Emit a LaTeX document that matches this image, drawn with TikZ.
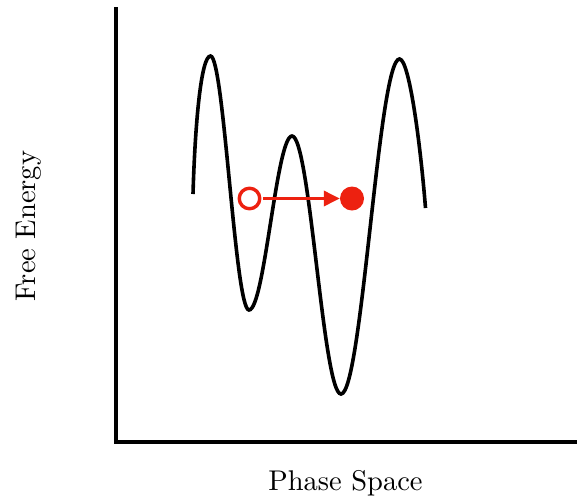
\documentclass[tikz,border=0pt]{standalone}
\usetikzlibrary{arrows.meta}
\definecolor{dotred}{RGB}{237,33,16}
\begin{document}
\begin{tikzpicture}[x=1pt,y=-1pt,
  axisline/.style={line width=4pt},
  energy/.style={line width=3.6pt},
  lbl/.style={scale=2.85,inner sep=0pt}]
\useasboundingbox (0,0) rectangle (577,499);
% axes
\coordinate (top) at (116,7);
\coordinate (origin) at (116,442);
\coordinate (right) at (577,442);
\draw[axisline] (top) -- (origin) -- (right);
% energy landscape
\coordinate (s) at (193,194);
\coordinate (p1) at (210.5,56);
\coordinate (m1) at (249,310);
\coordinate (p2) at (292,136);
\coordinate (m2) at (341,394);
\coordinate (p3) at (399.5,59);
\coordinate (e) at (425.5,208);
\draw[energy]
  (s) .. controls (195,125) and (201,56) .. (p1)
  .. controls (224,56) and (235,310) .. (m1)
  .. controls (264.5,310) and (276.5,136) .. (p2)
  .. controls (310,136) and (323,394) .. (m2)
  .. controls (362,394) and (378.5,59) .. (p3)
  .. controls (409,59) and (420,140) .. (e);
% particle
\node[circle,draw=dotred,line width=3.4pt,minimum size=20.5pt,inner sep=0pt] (open) at (249.5,198.5) {};
\node[circle,fill=dotred,minimum size=24pt,inner sep=0pt] (full) at (352,198.5) {};
\draw[dotred,line width=3.4pt,-{Triangle[length=16pt,width=15pt]}] ([xshift=1.5pt]open.east) -- (full.west);
% labels
\node[lbl,anchor=base] (xl) at (345.5,490) {Phase Space};
\node[lbl,anchor=base,rotate=90] (yl) at (35,226) {Free Energy};
\end{tikzpicture}
\end{document}
